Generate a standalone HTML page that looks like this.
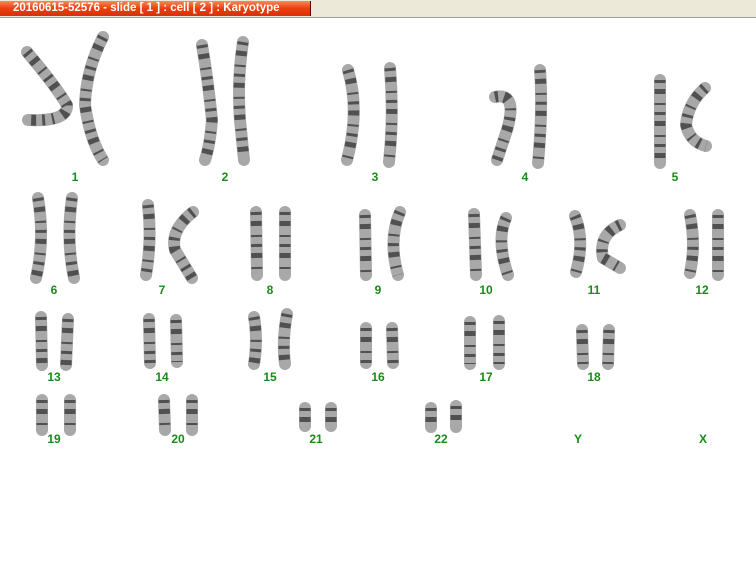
<!DOCTYPE html>
<html><head><meta charset="utf-8"><style>
html,body{margin:0;padding:0;background:#fff;width:756px;height:582px;overflow:hidden;font-family:"Liberation Sans",sans-serif}
#hdr{position:absolute;left:0;top:0;width:756px;height:17px;background:#ece9d8;border-bottom:1px solid #a0a0a0}
#tab{position:absolute;left:0;top:1px;width:311px;height:15px;background:linear-gradient(#f88a5a,#e8400e 50%,#d83008);border-right:1px solid #600;color:#fff;font-weight:bold;font-size:11.5px;line-height:15px;padding-left:13px;box-sizing:border-box}
svg{position:absolute;left:0;top:0}
.c{fill:none;stroke:#a8a8a8;stroke-width:12;stroke-linecap:round;stroke-linejoin:round}
.b{fill:none;stroke:#333;stroke-width:11;stroke-dasharray:3 6 5 9 2 7;opacity:.75}
#ch path{fill:none}
text{fill:#1a8a1a;font-weight:bold;font-size:12px;font-family:"Liberation Sans",sans-serif;text-anchor:middle}
</style></head><body>
<div id="hdr"><div id="tab">20160615-52576 - slide [ 1 ] : cell [ 2 ] : Karyotype</div></div>
<svg width="756" height="582">
<defs>
<g id="ch">
<path d="M27 52 Q55 85 67 105 Q68 122 28 120"/>
<path d="M103 37 Q86 70 85 105 Q90 140 103 160"/>
<path d="M202 45 Q208 80 212 120 Q210 145 205 160"/>
<path d="M243 42 Q237 80 240 120 L244 160"/>
<path d="M348 70 Q360 110 347 160"/>
<path d="M390 68 Q394 115 389 162"/>
<path d="M495 97 Q518 92 507 130 L497 160"/>
<path d="M540 70 Q543 110 538 163"/>
<path d="M660 80 L660 163"/>
<path d="M705 88 Q688 103 686 125 Q690 142 706 146"/>
<path d="M38 198 Q45 240 36 278"/><path d="M72 198 Q66 240 74 278"/>
<path d="M148 205 Q152 240 146 275"/><path d="M193 212 Q170 230 175 250 L192 278"/>
<path d="M256 212 L257 275"/><path d="M285 212 L285 275"/>
<path d="M365 215 L366 275"/><path d="M400 212 Q388 240 398 275"/>
<path d="M474 214 L476 275"/><path d="M506 218 Q496 240 508 275"/>
<path d="M575 216 Q585 240 576 272"/><path d="M620 225 Q598 235 603 258 L620 268"/>
<path d="M690 215 Q696 245 690 273"/><path d="M718 215 L718 275"/>
<path d="M41 317 L42 365"/><path d="M68 319 L66 365"/>
<path d="M149 319 L150 363"/><path d="M176 320 L177 362"/>
<path d="M254 317 Q258 340 254 364"/><path d="M287 314 Q282 340 285 364"/>
<path d="M366 328 L366 363"/><path d="M392 328 L393 363"/>
<path d="M470 322 L470 364"/><path d="M499 321 L499 364"/>
<path d="M582 330 L583 364"/><path d="M609 330 L608 364"/>
<path d="M42 400 L42 430"/><path d="M70 400 L70 430"/>
<path d="M164 400 L165 430"/><path d="M192 400 L192 430"/>
<path d="M305 408 L305 426"/><path d="M331 408 L331 426"/>
<path d="M431 408 L431 427"/><path d="M456 406 L456 427"/>
</g>
</defs>
<use href="#ch" class="c"/>
<use href="#ch" class="b"/>
<text x="75" y="181">1</text><text x="225" y="181">2</text><text x="375" y="181">3</text><text x="525" y="181">4</text><text x="675" y="181">5</text>
<text x="54" y="294">6</text><text x="162" y="294">7</text><text x="270" y="294">8</text><text x="378" y="294">9</text><text x="486" y="294">10</text><text x="594" y="294">11</text><text x="702" y="294">12</text>
<text x="54" y="381">13</text><text x="162" y="381">14</text><text x="270" y="381">15</text><text x="378" y="381">16</text><text x="486" y="381">17</text><text x="594" y="381">18</text>
<text x="54" y="443">19</text><text x="178" y="443">20</text><text x="316" y="443">21</text><text x="441" y="443">22</text><text x="578" y="443">Y</text><text x="703" y="443">X</text>
</svg>
</body></html>
